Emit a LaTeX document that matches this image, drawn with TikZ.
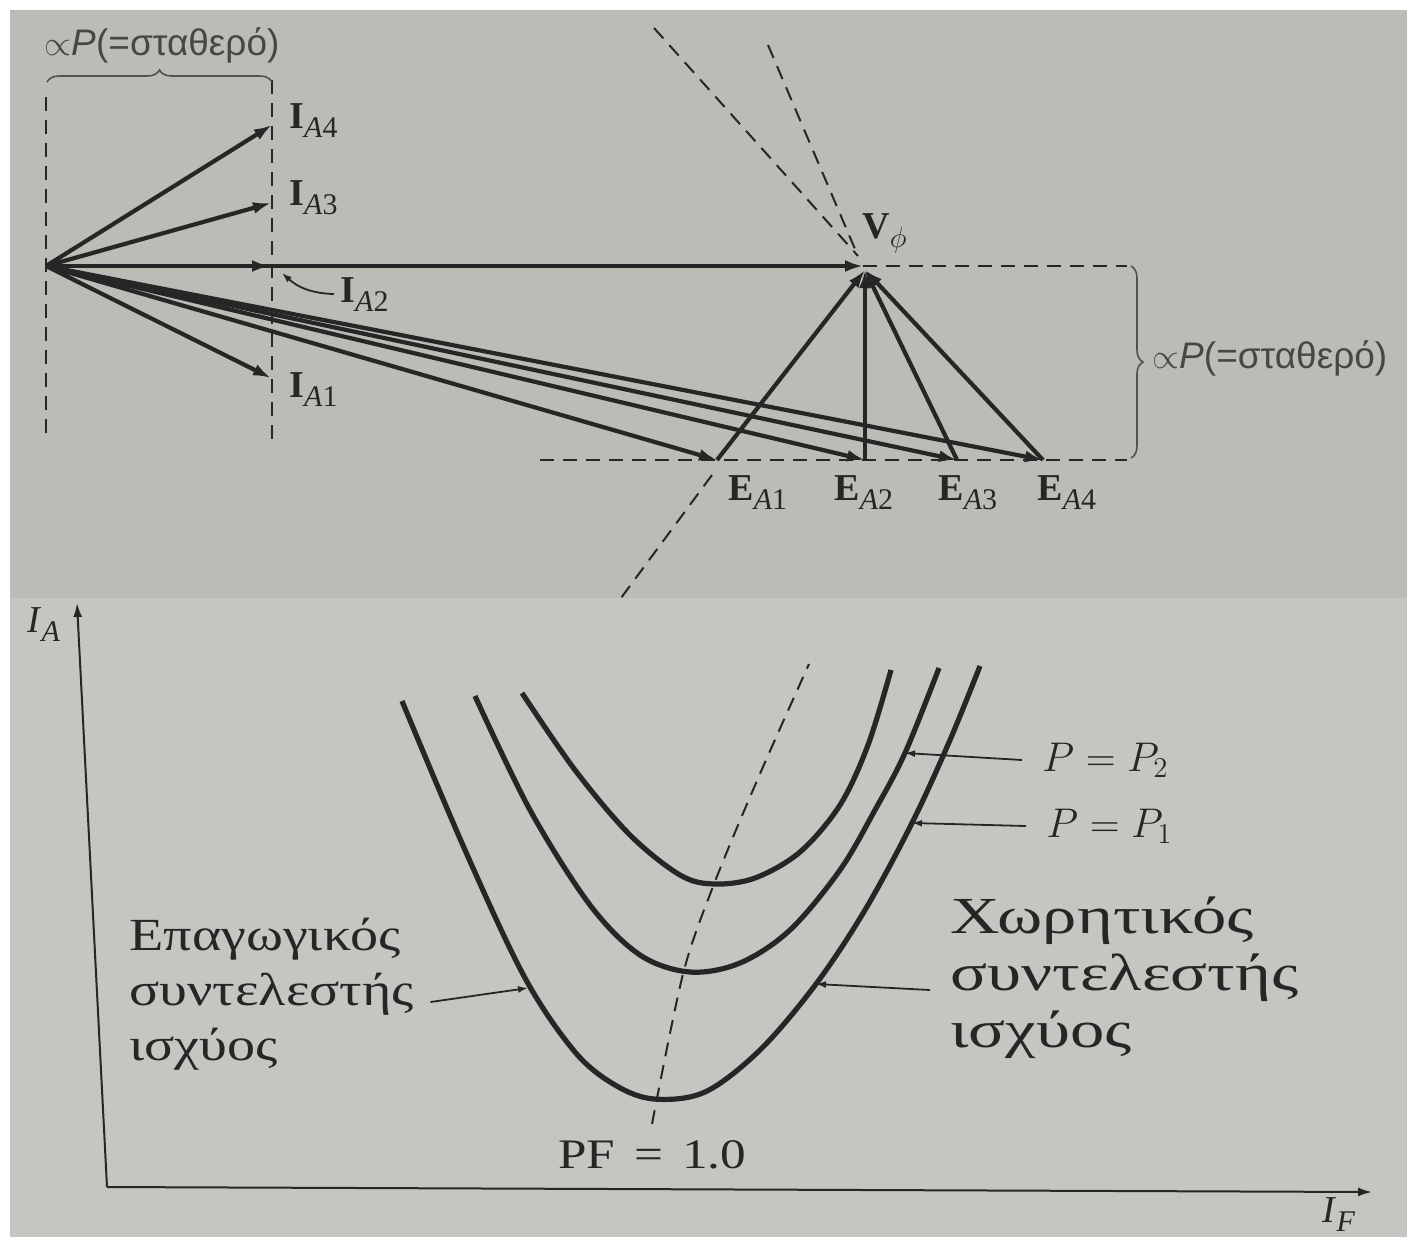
\documentclass[tikz,border=0pt]{standalone}
\usepackage{fontspec}
\setmainfont{Liberation Serif}
\newfontfamily\grsans{Liberation Sans}
\newfontfamily\grwide[FakeStretch=1.22]{Liberation Serif}
\newfontfamily\grwider[FakeStretch=1.32]{Liberation Serif}
\usetikzlibrary{arrows.meta,decorations.pathreplacing}
\definecolor{paper}{RGB}{189,187,182}
\definecolor{paperlo}{RGB}{198,197,194}
\definecolor{ink}{RGB}{38,38,38}
\newcommand{\subsc}[1]{\raisebox{-4.5pt}{\fontsize{15}{15}\selectfont#1}}
\newcommand{\phasor}[3]{\textbf{#1}\subsc{\textit{#2}#3}}

\begin{document}
\begin{tikzpicture}[x=0.5pt,y=-0.5pt,>={Latex[length=9pt,width=6pt]},
  vec/.style={draw=ink,line width=2.1pt,->},
  guide/.style={draw=ink,line width=1pt,dash pattern=on 7pt off 4.5pt},
  lead/.style={draw=ink,line width=0.9pt,-{Latex[length=5pt,width=3.5pt]}},
  axis/.style={draw=ink,line width=1pt,-{Latex[length=7pt,width=4.5pt]}},
  vcurve/.style={draw=ink,line width=2.6pt,smooth,tension=0.55},
  brc/.style={draw=ink!80,line width=0.8pt,decorate,decoration={brace,amplitude=6pt}},
  lab/.style={font=\fontsize{19}{22}\selectfont,text=ink,inner sep=0pt,anchor=base west},
  note/.style={font=\grsans\fontsize{18.5}{20}\selectfont,text=ink!85,inner sep=0pt},
  txt/.style={font=\grwide\fontsize{23}{27.5}\selectfont,text=ink,align=left,inner sep=0pt}]
  % background
  \fill[white] (0,0) rectangle (1407,1237);
  \fill[paper] (10,10) rectangle (1407,598);
  \fill[paperlo] (10,598) rectangle (1407,1237);
  \useasboundingbox (0,0) rectangle (1407,1237);

  % phasor diagram
  \coordinate (O) at (46,266);
  \coordinate (ia4) at (272,125);
  \coordinate (ia3) at (271,203);
  \coordinate (ia2) at (270,266);
  \coordinate (ia1) at (271,378);
  \coordinate (vphi) at (863,266);
  \coordinate (vhd) at (865,270);
  \coordinate (ea1) at (717,460);
  \coordinate (ea2) at (865,460);
  \coordinate (ea3) at (957,460);
  \coordinate (ea4) at (1043,460);
  \coordinate (apex) at (858,256);

  \draw[guide] (46,97) -- (46,442);
  \draw[guide] (272,80) -- (272,442);
  \draw[guide] (654,28) -- (apex);
  \draw[guide] (768,45) -- (apex);
  \draw[guide] (vphi) -- (1127,266);
  \draw[guide] (540,460) -- (1127,460);
  \draw[guide] (712,475) -- (621,598);
  \draw[brc] (47,82) -- (272,82);
  \draw[brc] (1131,266) -- (1131,458);
  \node[note] (pk1) at (162,45) {$\propto$\textit{P}(=σταθερό)};
  \node[note,anchor=west] (pk2) at (1152,358) {$\propto$\textit{P}(=σταθερό)};

  \foreach \p in {ia4,ia3,ia2,ia1,vphi,ea1,ea2,ea3,ea4} \draw[vec] (O) -- (\p);
  \foreach \p in {ea1,ea2,ea3,ea4} \draw[vec] (\p) -- (vhd);

  \node[lab] (lia4) at (289,128) {\phasor{I}{A}{4}};
  \node[lab] (lia3) at (289,205) {\phasor{I}{A}{3}};
  \node[lab] (lia2) at (340,302) {\phasor{I}{A}{2}};
  \node[lab] (lia1) at (289,397) {\phasor{I}{A}{1}};
  \node[lab] (lv) at (862,238) {\textbf{V}\subsc{$\phi$}};
  \node[lab] (lea1) at (728,500) {\phasor{E}{A}{1}};
  \node[lab] (lea2) at (834,500) {\phasor{E}{A}{2}};
  \node[lab] (lea3) at (938,500) {\phasor{E}{A}{3}};
  \node[lab] (lea4) at (1037,500) {\phasor{E}{A}{4}};
  \draw[lead] ([xshift=-3pt]lia2.west) to[bend left=20] (282,273);

  % V curves
  \coordinate (org) at (107,1187);
  \coordinate (ytop) at (77,603);
  \coordinate (xend) at (1372,1192);
  \draw[axis] (org) -- (ytop);
  \draw[axis] (org) -- (xend);
  \node[lab] (lia) at (27,632) {\textit{I}\subsc{\textit{A}}};
  \node[lab] (lif) at (1322,1222) {\textit{I}\subsc{\textit{F}}};

  \draw[vcurve] plot coordinates {(402,701) (465,850) (525,978) (575,1052) (615,1085) (654,1099) (705,1092) (760,1050) (816,984) (865,910) (912,823) (950,740) (980,666)};
  \draw[vcurve] plot coordinates {(475,696) (530,810) (590,905) (640,955) (690,972) (740,963) (790,930) (840,870) (875,810) (905,753) (939,668)};
  \draw[vcurve] plot coordinates {(522,693) (575,770) (630,835) (680,875) (714,884) (755,878) (800,852) (840,805) (868,745) (891,670)};
  \draw[guide] plot[smooth] coordinates {(652,1124) (683,974) (714,884) (759,776) (809,664)};

  \coordinate (tp2) at (905,753);
  \coordinate (tp1) at (912,823);
  \coordinate (tcap) at (816,984);
  \coordinate (tind) at (528,988);
  \node[font=\fontsize{22}{24}\selectfont,text=ink,anchor=west,inner sep=0pt] (p2) at (1022,760) {\hspace{10pt}$P = P_2$};
  \node[font=\fontsize{22}{24}\selectfont,text=ink,anchor=west,inner sep=0pt] (p1) at (1026,826) {\hspace{10pt}$P = P_1$};
  \draw[lead] (p2.west) -- (tp2);
  \draw[lead] (p1.west) -- (tp1);
  \node[txt,anchor=west] (ind) at (129,994) {Επαγωγικός\\συντελεστής\\ισχύος};
  \node[txt,font=\grwider\fontsize{26}{28.5}\selectfont,anchor=west] (cap) at (950,978) {Χωρητικός\\συντελεστής\\ισχύος};
  \draw[lead] ([xshift=8pt,yshift=-4pt]ind.east) -- (tind);
  \draw[lead] ([xshift=-10pt,yshift=-6pt]cap.west) -- (tcap);
  \node[lab,font=\grwide\fontsize{21}{24}\selectfont] (pf) at (558,1168) {PF\hspace{0.45em}=\hspace{0.45em}1.0};
\end{tikzpicture}
\end{document}
